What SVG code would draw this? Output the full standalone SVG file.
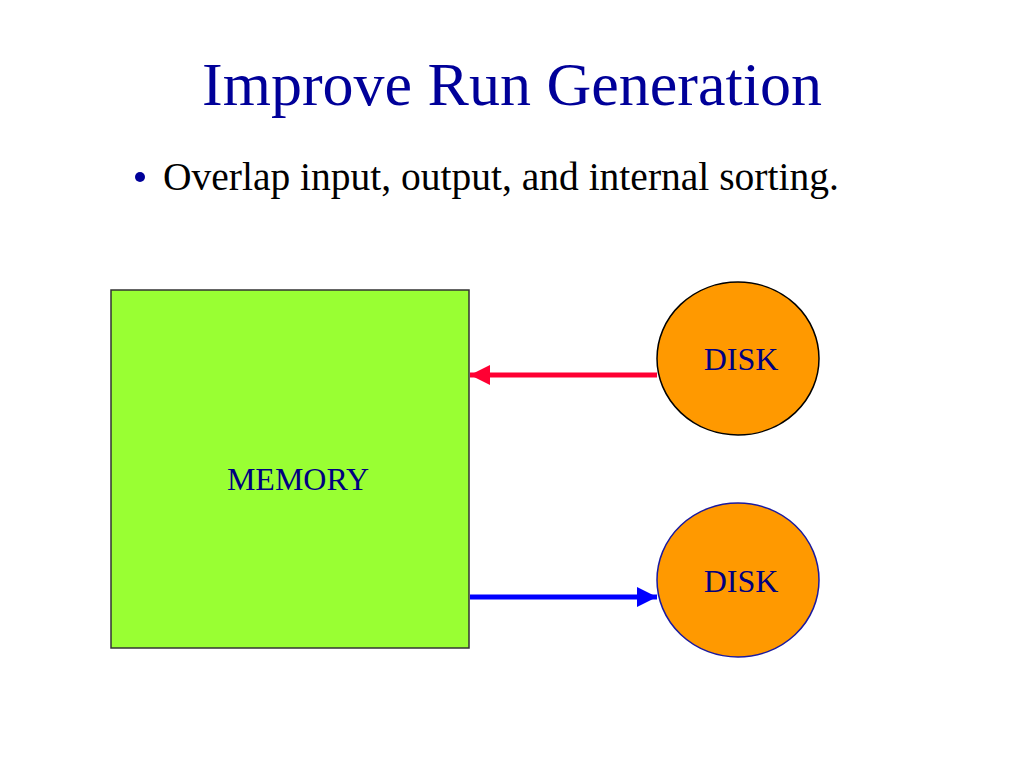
<svg xmlns="http://www.w3.org/2000/svg" width="1024" height="768" viewBox="0 0 1024 768">
<style>
.t{font-family:"Liberation Serif","Times New Roman",serif;}
.lbl{font-family:"Liberation Serif","Times New Roman",serif;font-size:32px;fill:#000080;text-anchor:middle;}
</style>
<defs>
<marker id="ar" markerWidth="4" markerHeight="4" refX="4" refY="2" orient="auto" markerUnits="strokeWidth"><path d="M0,0 L4,2 L0,4 Z" fill="#FF0033"/></marker>
<marker id="ab" markerWidth="4" markerHeight="4" refX="4" refY="2" orient="auto" markerUnits="strokeWidth"><path d="M0,0 L4,2 L0,4 Z" fill="#0000FF"/></marker>
</defs>
<rect width="1024" height="768" fill="#ffffff"/>
<text class="t" x="512" y="105" font-size="62" fill="#000099" text-anchor="middle">Improve Run Generation</text>
<circle cx="140" cy="177" r="5" fill="#000099"/>
<text class="t" x="163" y="190" font-size="39.5" fill="#000000">Overlap input, output, and internal sorting.</text>
<g id="connectors">
<line x1="657" y1="375" x2="470" y2="375" stroke="#FF0033" stroke-width="5" marker-end="url(#ar)"/>
<line x1="470" y1="597" x2="657" y2="597" stroke="#0000FF" stroke-width="5" marker-end="url(#ab)"/>
</g>
<g id="memory">
<rect x="111" y="290" width="358" height="358" fill="#99FF33" stroke="#333333" stroke-width="1.5"/>
<text class="lbl" x="298" y="490">MEMORY</text>
</g>
<g id="disk1">
<ellipse cx="738" cy="358.5" rx="81" ry="76.5" fill="#FF9900" stroke="#000000" stroke-width="1.5"/>
<text class="lbl" x="741" y="370">DISK</text>
</g>
<g id="disk2">
<ellipse cx="738" cy="580" rx="81" ry="77" fill="#FF9900" stroke="#1a1aa0" stroke-width="1.5"/>
<text class="lbl" x="741" y="592">DISK</text>
</g>
</svg>
